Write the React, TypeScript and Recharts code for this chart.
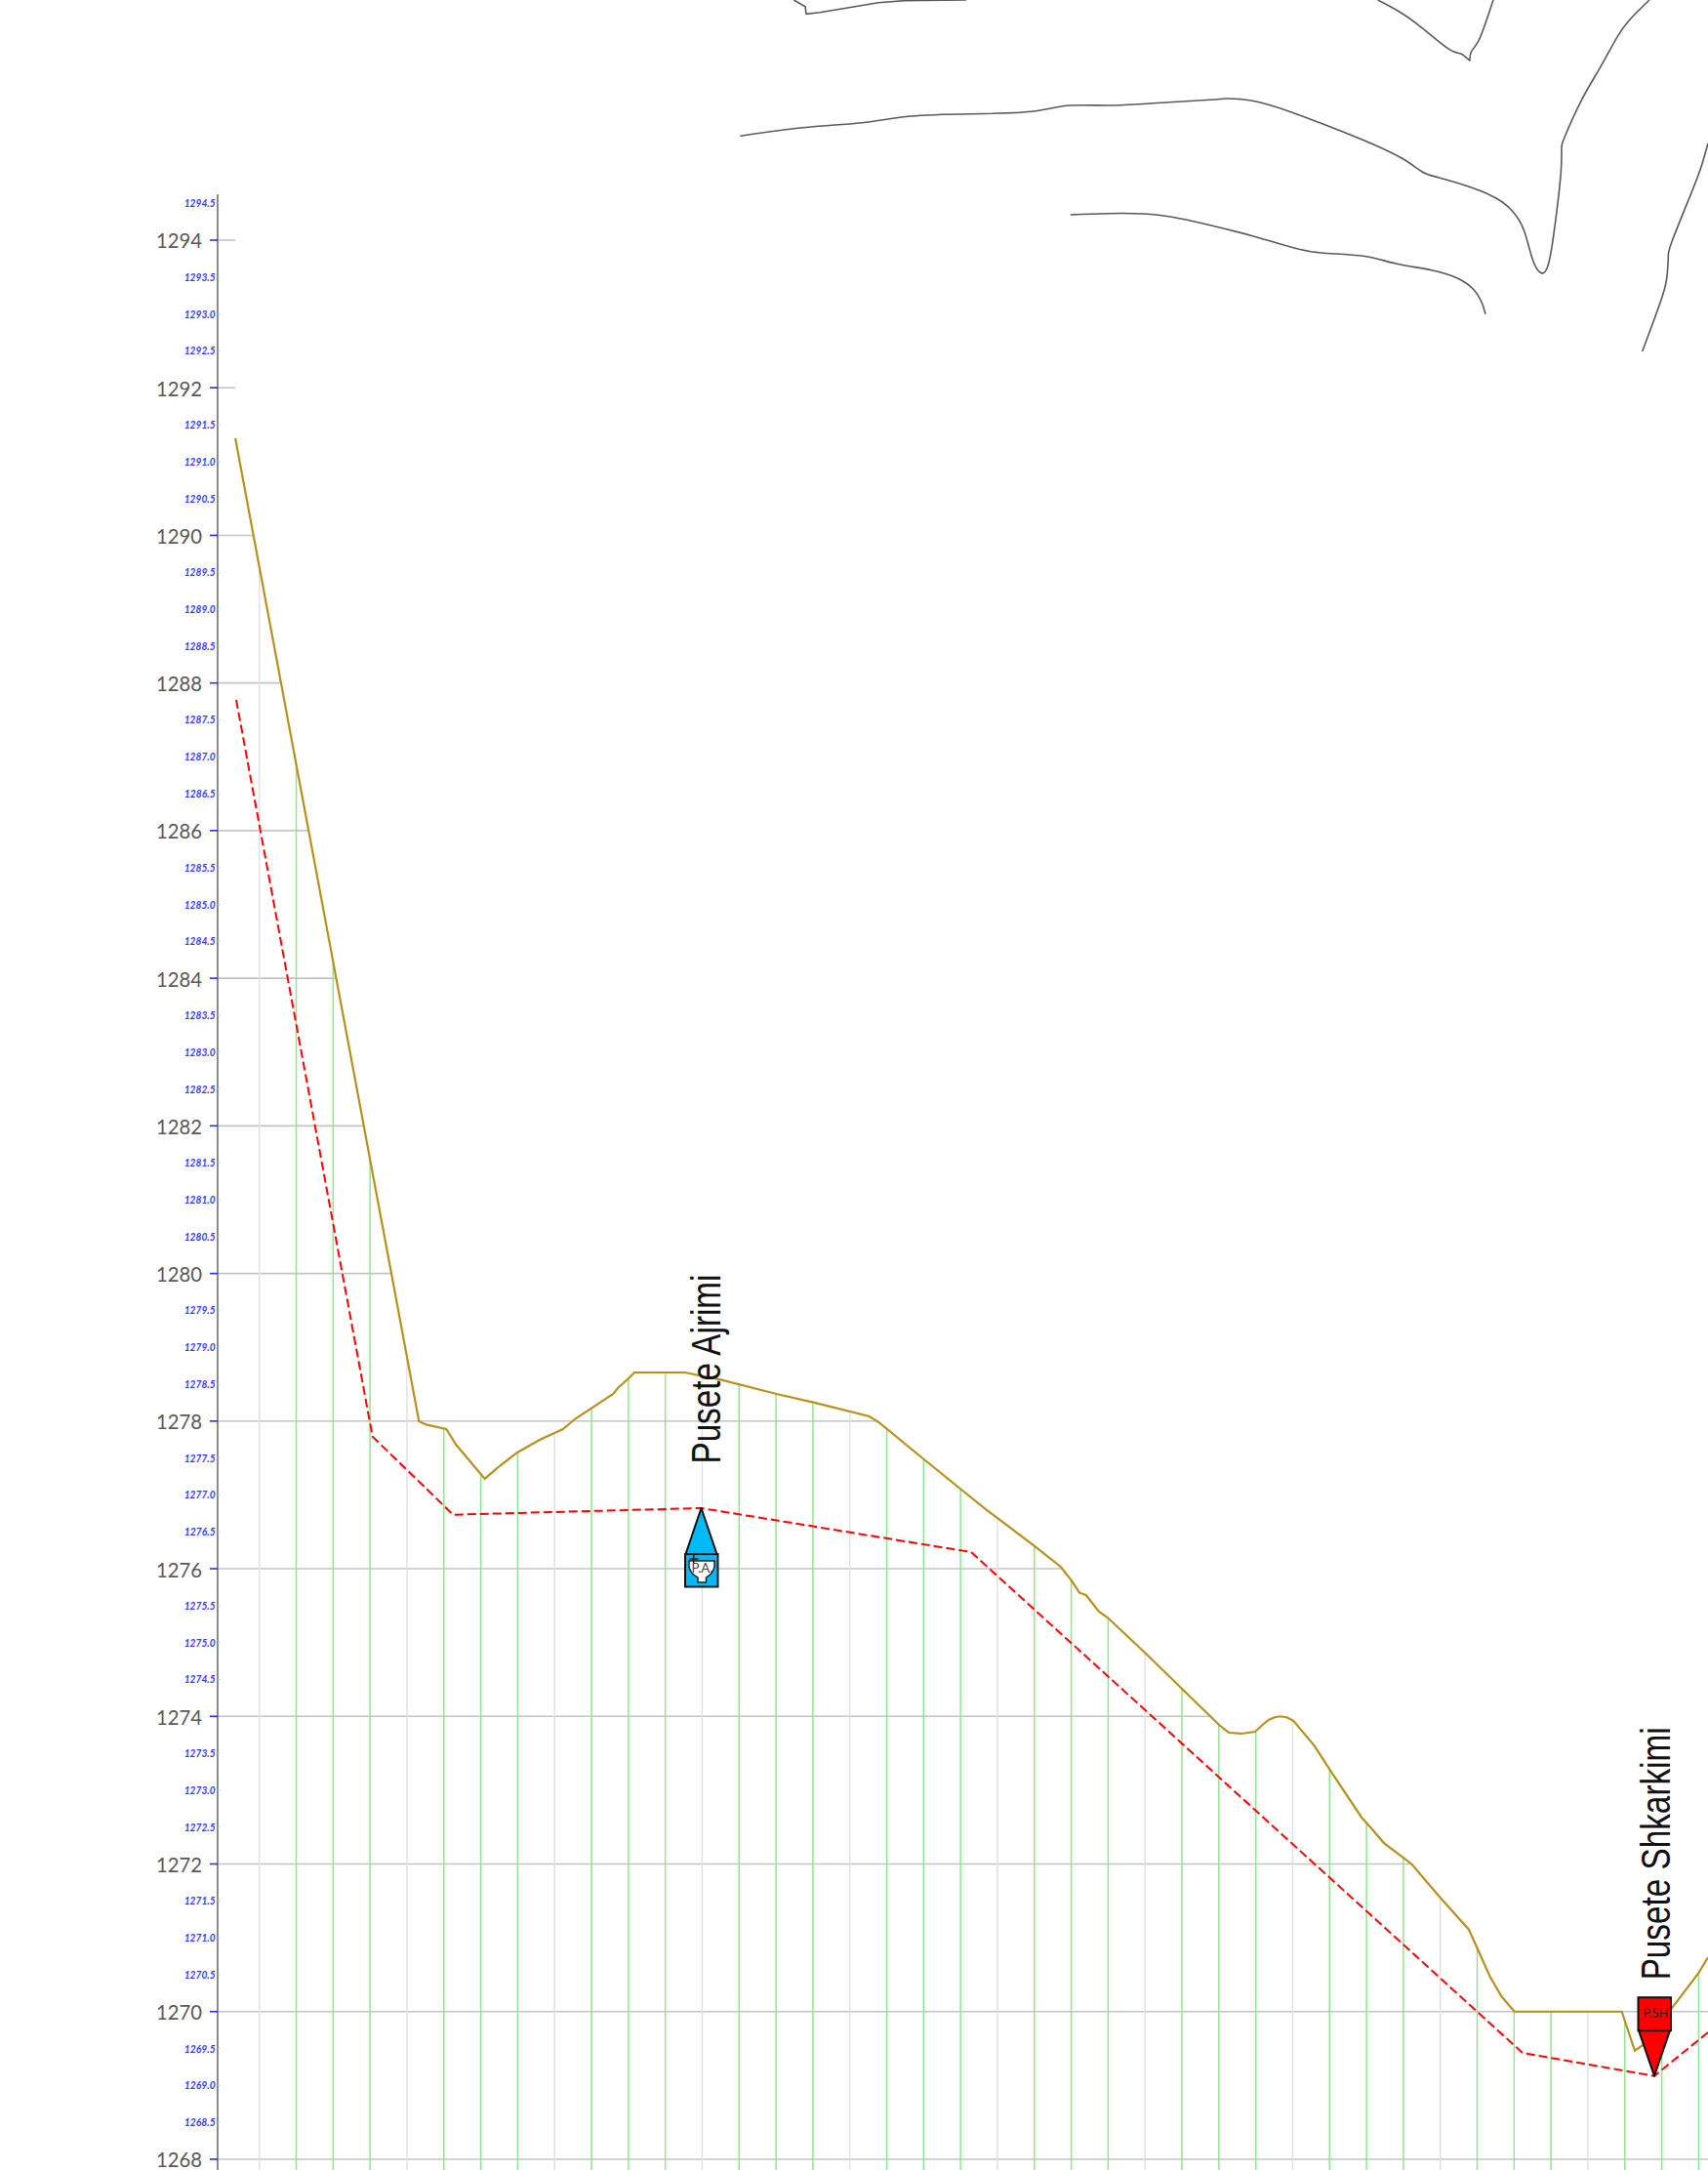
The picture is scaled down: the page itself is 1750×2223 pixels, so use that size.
import React from "react";
import { ComposedChart, Line, XAxis, YAxis, ReferenceLine, ReferenceDot } from "recharts";

// Longitudinal profile: distance (m) along the pipe, elevation (m)
const terrainDist = [-6.5,43.22,45.18,50.62,53.26,61.03,64.99,69.82,75.9,82.17,85.68,95.8,97.04,99.68,101.53,115.19,124.86,140.29,149.96,164.94,167.58,179.92,190.04,196.64,209.86,216.91,219.71,222.01,223.78,227.21,229.67,239.79,246.84,249.75,259.87,262.44,265.79,269.56,271.5,273.26,274.85,276.35,278.1,279.87,285.6,289.72,298.36,299.68,304.52,309.8,312.02,319.5,327.42,329.8,333.16,336.22,339.76,365.73,368.82,372.34,374.55,382.11,389.51,392.15];
const terrainElev = [1291.315,1277.998,1277.952,1277.892,1277.68,1277.218,1277.389,1277.575,1277.746,1277.892,1278.037,1278.368,1278.447,1278.566,1278.659,1278.659,1278.562,1278.364,1278.253,1278.068,1277.988,1277.482,1277.072,1276.807,1276.305,1276.027,1275.851,1275.674,1275.644,1275.423,1275.336,1274.86,1274.516,1274.374,1273.881,1273.779,1273.766,1273.792,1273.881,1273.955,1273.987,1274.0,1273.987,1273.942,1273.603,1273.28,1272.632,1272.558,1272.28,1272.082,1271.994,1271.553,1271.111,1270.847,1270.473,1270.208,1270.0,1270.0,1270.0,1269.471,1269.547,1270.032,1270.516,1270.737];
const pipeDist = [-6.26,30.65,52.47,119.58,192.68,341.95,377.62,392.15];
const pipeElev = [1287.771,1277.79,1276.732,1276.821,1276.226,1269.441,1269.128,1269.719];

const greenStations = [9.99,19.98,29.97,49.95,59.94,69.93,89.91,99.9,109.89,129.87,139.86,149.85,169.83,179.82,189.81,209.79,219.78,229.77,249.75,259.74,269.73,289.71,299.7,309.69,329.67,339.66,349.65,369.63,379.62,389.61];
const grayStations = [0,39.96,79.92,119.88,159.84,199.8,239.76,279.72,319.68,359.64];

const majorTicks = [1294,1292,1290,1288,1286,1284,1282,1280,1278,1276,1274,1272,1270,1268];
// Distance at which each elevation gridline stops (where it meets the ground)
const majorEnds = [-6.5,-6.5,-1.6,5.86,13.3,20.8,28.3,35.7,167.4,217.3,258,312,392.15,392.15];
const minorTicks = [1294.5,1293.5,1293,1292.5,1291.5,1291,1290.5,1289.5,1289,1288.5,1287.5,1287,1286.5,1285.5,1285,1284.5,1283.5,1283,1282.5,1281.5,1281,1280.5,1279.5,1279,1278.5,1277.5,1277,1276.5,1275.5,1275,1274.5,1273.5,1273,1272.5,1271.5,1271,1270.5,1269.5,1269,1268.5];

// Plan-view contours, in the sheet's own plan coordinates
const contourAX = [813.3,825,826,840,900,926.7,990];
const contourAY = [0,6.7,14.3,12.7,2.7,0.7,0];
const contourBX = [758.3,823.3,883.3,933.3,993.3,1056.7,1093.3,1140,1190,1240,1256.7,1283.3,1323.3,1373.3,1406.7,1436.7,1456.7,1473.3,1506.7,1533.3,1550,1561.7,1570,1578.3,1585,1590,1595,1599.3,1600,1603.3,1620,1640,1656.7,1670,1690];
const contourBY = [139.3,130.7,125.7,119,116.7,114.3,108.3,108,105.3,102.3,101,103.3,115,134,147.7,162.3,175.7,181.7,191.7,203.3,216.7,236.7,265,279.3,275,253.3,216.7,176.7,153.3,140,103.3,68.3,38.3,20,0];
const contourCX = [1096.7,1136.7,1186.7,1240,1283.3,1323.3,1353.3,1396.7,1430,1466.7,1493.3,1510,1518.3,1522];
const contourCY = [220,218.7,220.3,230.7,241.7,253.3,259,262.3,270,276.7,285,296.7,310,321.7];
const contourDX = [1411.7,1433.3,1456.7,1485,1496.7,1506,1507.3,1515,1523.3,1530];
const contourDY = [0,11.7,28.3,50.7,55,62.3,53.3,41.7,20,0];
const contourEX = [1682.7,1703.3,1708.3,1709.3,1713.3,1733.3,1743.3,1750];
const contourEY = [360,303.3,280,263.3,246.7,196.7,170,146.7];

const toPts = (xs: number[], ys: number[]) => xs.map((x, i) => ({ x, y: ys[i] }));

const GROUND = "#b8901c";
const FONT = "Lato, 'Open Sans', sans-serif";

function AxisTick(props: any) {
  const { x, y, payload } = props;
  const v = payload.value as number;
  if (majorTicks.includes(v)) {
    return (
      <g>
        <line x1={x - 8} x2={x} y1={y} y2={y} stroke="#2a2aff" strokeWidth={1.6} />
        <text x={x - 63} y={y + 8.5} fontFamily={FONT} fontSize={22} fill="#595959" textLength={47} lengthAdjust="spacingAndGlyphs">
          {String(v)}
        </text>
      </g>
    );
  }
  return (
    <g>
      <line x1={x} x2={x + 2} y1={y} y2={y} stroke="#bfbfbf" strokeWidth={1} />
      <text x={x - 34.3} y={y + 4} fontFamily={FONT} fontStyle="italic" fontWeight={700} fontSize={11} fill="#3a3aff" textLength={32} lengthAdjust="spacingAndGlyphs">
        {v.toFixed(1)}
      </text>
    </g>
  );
}

function BlueManhole(props: any) {
  const { cx, cy } = props;
  return (
    <g transform={`translate(${cx},${cy})`}>
      <text transform="translate(19,-45.5) rotate(-90)" fontFamily="'Liberation Sans', Arial, sans-serif" fontSize={43} fill="#111" textLength={194} lengthAdjust="spacingAndGlyphs">
        Pusete Ajrimi
      </text>
      <path d="M0,0 L16,47 L-16,47 Z" fill="#00b9f7" stroke="#111" strokeWidth={2} strokeLinejoin="round" />
      <rect x={-16.5} y={47} width={33.5} height={33.5} fill="#00b9f7" stroke="#111" strokeWidth={2} />
      <path d="M-12.5,54 L13.5,54 L13.5,60 Q12,67 5,71 L5,76 L-3.5,76 L-3.5,71 Q-11,67 -12.5,60 Z" fill="#fff" stroke="#222" strokeWidth={1.5} />
      <path d="M-7.8,47 L-7.8,57 M-12,52 L-3,52" stroke="#222" strokeWidth={1.5} fill="none" />
      <text x={-10} y={66} fontFamily={FONT} fontSize={14} fill="#444" textLength={22} lengthAdjust="spacingAndGlyphs">P.A.</text>
    </g>
  );
}

function RedManhole(props: any) {
  const { cx, cy } = props;
  return (
    <g transform={`translate(${cx},${cy})`}>
      <text transform="translate(15.7,-98.3) rotate(-90)" fontFamily="'Liberation Sans', Arial, sans-serif" fontSize={43} fill="#111" textLength={259} lengthAdjust="spacingAndGlyphs">
        Pusete Shkarkimi
      </text>
      <rect x={-16.5} y={-80.5} width={33.5} height={34} fill="#ff0000" stroke="#111" strokeWidth={2} />
      <path d="M0,0 L-16,-46.5 L16,-46.5 Z" fill="#ff0000" stroke="#111" strokeWidth={2} strokeLinejoin="round" />
      <text x={-11.7} y={-60} fontFamily={FONT} fontSize={14} fill="#222" textLength={26} lengthAdjust="spacingAndGlyphs">P.SH</text>
    </g>
  );
}

const contours = [
  { key: "a", type: "linear", data: toPts(contourAX, contourAY) },
  { key: "b", type: "natural", data: toPts(contourBX, contourBY) },
  { key: "c", type: "natural", data: toPts(contourCX, contourCY) },
  { key: "d1", type: "natural", data: toPts(contourDX.slice(0, 6), contourDY.slice(0, 6)) },
  { key: "d2", type: "natural", data: toPts(contourDX.slice(5), contourDY.slice(5)) },
  { key: "e", type: "natural", data: toPts(contourEX, contourEY) },
];

const terrainPts = toPts(terrainDist, terrainElev);
const pipePts = toPts(pipeDist, pipeElev);

function groundAt(d: number) {
  for (let i = 0; i < terrainDist.length - 1; i++) {
    const a = terrainDist[i], b = terrainDist[i + 1];
    if (d >= a && d <= b) {
      return terrainElev[i] + ((d - a) / (b - a)) * (terrainElev[i + 1] - terrainElev[i]);
    }
  }
  return terrainElev[terrainElev.length - 1];
}

const Y_BOTTOM = 1267.854;
const Y_TOP = 1297.253;
const X_LEFT = -11.28;
const X_RIGHT = 392.15;

export default function App() {
  return (
    <div style={{ position: "absolute", left: 0, top: 0, width: 1750, height: 2223, background: "#fff" }}>
      <ComposedChart width={1750} height={2223} margin={{ top: 0, right: 0, bottom: 0, left: 0 }}>
        <XAxis xAxisId={0} type="number" dataKey="x" domain={[X_LEFT, X_RIGHT]} allowDataOverflow hide />
        <XAxis xAxisId="plan" type="number" dataKey="x" domain={[223, 1750]} allowDataOverflow hide />
        <YAxis
          yAxisId={0}
          type="number"
          dataKey="y"
          width={223}
          domain={[Y_BOTTOM, Y_TOP]}
          allowDataOverflow
          ticks={[...majorTicks, ...minorTicks]}
          interval={0}
          axisLine={false}
          tickLine={false}
          tickSize={0}
          tickMargin={0}
          tick={<AxisTick />}
        />
        <YAxis yAxisId="plan" type="number" dataKey="y" domain={[0, 2223]} reversed allowDataOverflow hide />

        {majorTicks.map((v, i) => (
          <ReferenceLine key={`h${v}`} ifOverflow="visible" stroke="#c4c4c4" strokeWidth={1.6}
            segment={[{ x: X_LEFT, y: v }, { x: majorEnds[i], y: v }]} />
        ))}
        {grayStations.map((d) => (
          <ReferenceLine key={`g${d}`} ifOverflow="visible" stroke="#e2e2e2" strokeWidth={1.5}
            segment={[{ x: d, y: groundAt(d) }, { x: d, y: Y_BOTTOM }]} />
        ))}
        {greenStations.map((d) => (
          <ReferenceLine key={`s${d}`} ifOverflow="visible" stroke="#93e393" strokeWidth={1.5}
            segment={[{ x: d, y: groundAt(d) }, { x: d, y: Y_BOTTOM }]} />
        ))}
        <ReferenceLine ifOverflow="visible" stroke="#8c8c8c" strokeWidth={2}
          segment={[{ x: X_LEFT, y: 1294.62 }, { x: X_LEFT, y: Y_BOTTOM }]} />

        {contours.map((c) => (
          <Line key={c.key} xAxisId="plan" yAxisId="plan" data={c.data} dataKey="y" type={c.type as any}
            stroke="#595959" strokeWidth={1.6} dot={false} activeDot={false} isAnimationActive={false} legendType="none" />
        ))}
        <Line data={pipePts} dataKey="y" type="linear" stroke="#ff0000" strokeWidth={2} strokeDasharray="9 4"
          dot={false} activeDot={false} isAnimationActive={false} />
        <Line data={terrainPts} dataKey="y" type="linear" stroke={GROUND} strokeWidth={2.2}
          dot={false} activeDot={false} isAnimationActive={false} />

        <ReferenceDot x={119.63} y={1276.82} ifOverflow="visible" shape={<BlueManhole />} />
        <ReferenceDot x={377.62} y={1269.128} ifOverflow="visible" shape={<RedManhole />} />
      </ComposedChart>
    </div>
  );
}
